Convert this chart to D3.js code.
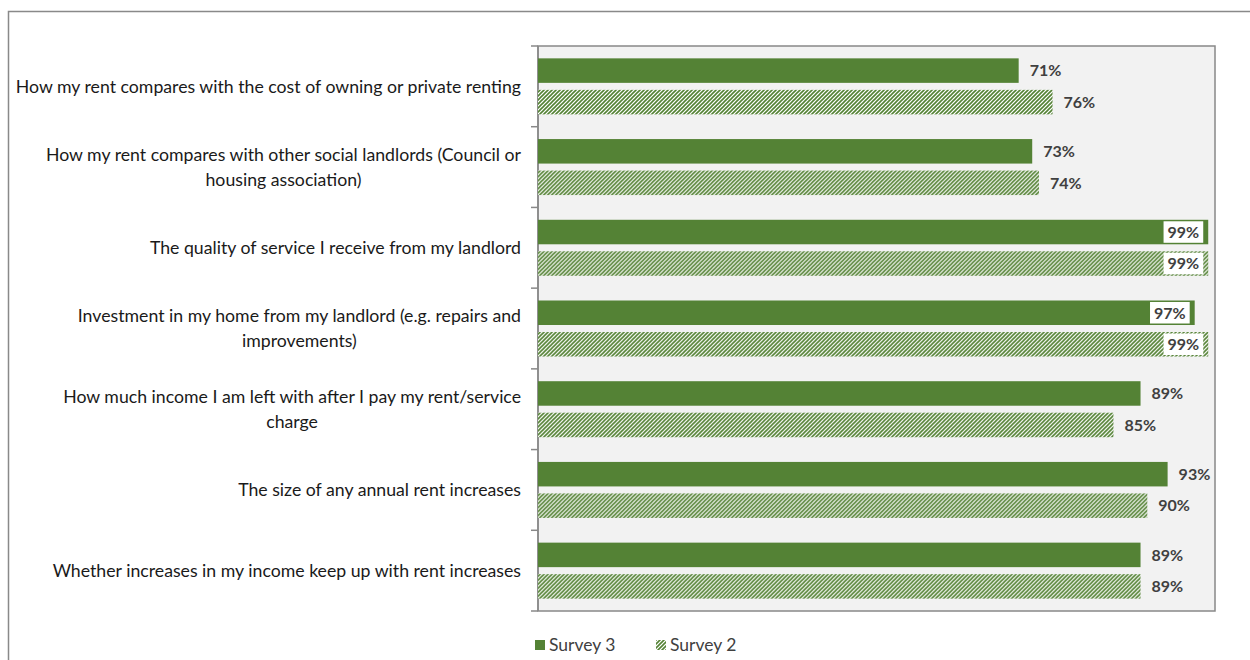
<!DOCTYPE html>
<html>
<head>
<meta charset="utf-8">
<script src="https://cdn.jsdelivr.net/npm/d3@7"></script>
<style>
  html, body { margin: 0; padding: 0; background: #fff; }
  svg { display: block; }
</style>
</head>
<body>
<svg id="chart" width="1250" height="660"></svg>
<script>
// ---- data ----
const categories = [
  "How my rent compares with the cost of owning or private renting",
  "How my rent compares with other social landlords (Council or\nhousing association)",
  "The quality of service I receive from my landlord",
  "Investment in my home from my landlord (e.g. repairs and\nimprovements)",
  "How much income I am left with after I pay my rent/service\ncharge",
  "The size of any annual rent increases",
  "Whether increases in my income keep up with rent increases"
];
const seriesNames = ["Survey 3", "Survey 2"];
const survey3 = [71, 73, 99, 97, 89, 93, 89];
const survey2 = [76, 74, 99, 99, 85, 90, 89];
const xDomain = [0, 100];

// ---- layout ----
const W = 1250, H = 660;
const plot = { left: 538, right: 1215, top: 46, bottom: 611 };
const green = "#548235";
const axisColor = "#888888";
const font = "Lato, 'Open Sans', sans-serif";

const svg = d3.select("#chart");
const defs = svg.append("defs");
const pat = defs.append("pattern")
  .attr("id", "hatch").attr("patternUnits", "userSpaceOnUse")
  .attr("width", 4).attr("height", 4);
pat.append("rect").attr("width", 4).attr("height", 4).attr("fill", "#ffffff");
pat.append("path")
  .attr("d", "M-1,1 l2,-2 M0,4 l4,-4 M3,5 l2,-2")
  .attr("stroke", green).attr("stroke-width", 1.6);

// outer chart border
svg.append("rect").attr("x", 8.5).attr("y", 11.5)
  .attr("width", W + 20).attr("height", H + 20)
  .attr("fill", "#fff").attr("stroke", "#898989").attr("stroke-width", 1.5);

const x = d3.scaleLinear().domain(xDomain).range([plot.left, plot.right]);
const y = d3.scaleBand().domain(categories).range([plot.top, plot.bottom]);
const ySub = d3.scaleBand().domain(seriesNames).range([0, y.bandwidth()])
  .paddingInner(0.222).paddingOuter(0.392);

// plot area
svg.append("rect").attr("x", plot.left).attr("y", plot.top)
  .attr("width", plot.right - plot.left).attr("height", plot.bottom - plot.top)
  .attr("fill", "#f2f2f2").attr("stroke", axisColor).attr("stroke-width", 1.5);

// axis line + ticks at category boundaries
const g = svg.append("g");
g.append("line").attr("x1", plot.left).attr("x2", plot.left)
  .attr("y1", plot.top).attr("y2", plot.bottom)
  .attr("stroke", axisColor).attr("stroke-width", 1.5);
const bounds = categories.map(c => y(c)).concat([y(categories[categories.length - 1]) + y.step()]);
g.selectAll("line.tick").data(bounds).enter().append("line")
  .attr("class", "tick")
  .attr("x1", plot.left - 7).attr("x2", plot.left)
  .attr("y1", d => d).attr("y2", d => d)
  .attr("stroke", axisColor).attr("stroke-width", 1.5);

// data rows
const rows = categories.map((c, i) => ({ cat: c, vals: [
  { s: seriesNames[0], v: survey3[i] },
  { s: seriesNames[1], v: survey2[i] }
]}));

const groups = svg.selectAll("g.row").data(rows).enter().append("g")
  .attr("class", "row")
  .attr("transform", d => `translate(0,${y(d.cat)})`);

const bars = groups.selectAll("g.bar").data(d => d.vals).enter().append("g").attr("class", "bar");
bars.append("rect")
  .attr("x", x(0))
  .attr("y", d => ySub(d.s))
  .attr("width", d => x(d.v) - x(0))
  .attr("height", ySub.bandwidth())
  .attr("fill", d => d.s === seriesNames[0] ? green : "url(#hatch)");

// labels
bars.each(function(d) {
  const sel = d3.select(this);
  const cy = ySub(d.s) + ySub.bandwidth() / 2;
  const inside = d.v > 95;
  const t = sel.append("text")
    .attr("y", cy).attr("dy", "0.36em")
    .attr("font-family", font).attr("font-weight", "bold")
    .attr("font-size", 16).attr("fill", "#404040")
    .text(d.v + "%");
  if (inside) {
    t.attr("text-anchor", "end").attr("x", x(d.v) - 9);
    const bb = t.node().getBBox();
    sel.insert("rect", "text")
      .attr("x", bb.x - 4).attr("y", ySub(d.s) + 1.5)
      .attr("width", bb.width + 8).attr("height", ySub.bandwidth() - 3)
      .attr("fill", "#fff");
    sel.raise();
  } else {
    t.attr("text-anchor", "start").attr("x", x(d.v) + 11);
  }
});

// category labels (block right-aligned, lines centered)
const labelRight = 521;
const lineH = 25;
categories.forEach(c => {
  const lines = c.split("\n");
  const t = svg.append("text")
    .attr("font-family", font).attr("font-size", 17.7).attr("fill", "#1a1a1a")
    .attr("text-anchor", "middle");
  const cy = y(c) + y.bandwidth() / 2;
  const spans = lines.map((ln, i) => t.append("tspan")
    .attr("y", cy + (i - (lines.length - 1) / 2) * lineH)
    .attr("dy", "0.35em").text(ln));
  const maxW = d3.max(spans, s => s.node().getComputedTextLength());
  spans.forEach(s => s.attr("x", labelRight - maxW / 2));
});

// legend
const legend = svg.append("g").attr("transform", "translate(535,645)");
const legItems = [
  { s: seriesNames[0], fill: green, x: 0 },
  { s: seriesNames[1], fill: "url(#hatch)", x: 121 }
];
legItems.forEach(it => {
  legend.append("rect").attr("x", it.x).attr("y", -5).attr("width", 10).attr("height", 10)
    .attr("fill", it.fill);
  legend.append("text").attr("x", it.x + 14).attr("y", 0).attr("dy", "0.35em")
    .attr("font-family", font).attr("font-size", 17.5).attr("fill", "#404040")
    .text(it.s);
});
</script>
</body>
</html>
